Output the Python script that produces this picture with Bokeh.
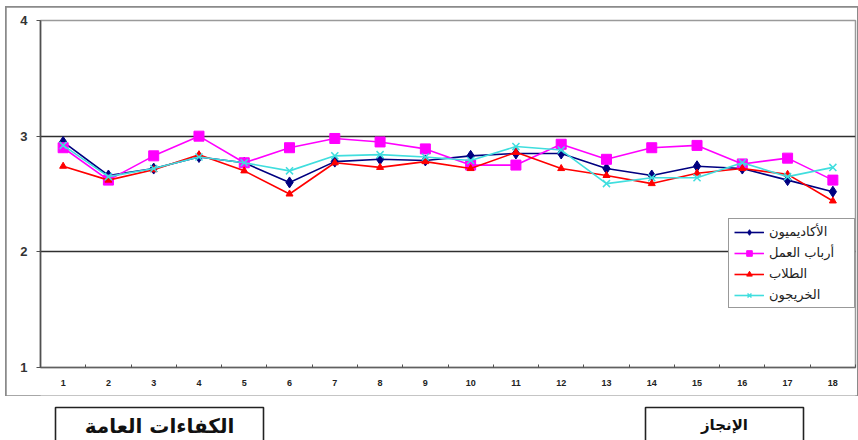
from bokeh.plotting import figure
from bokeh.layouts import column
from bokeh.models import Range1d, FixedTicker, Legend, LegendItem, LinearAxis
from bokeh.core.properties import value
from bokeh.embed import file_html
from bokeh.resources import INLINE

# Competency items 1..18
items = list(range(1, 19))
tick_labels = [str(i) for i in items]

academics = [2.95, 2.66, 2.72, 2.82, 2.77, 2.60, 2.78, 2.80, 2.79,
             2.83, 2.85, 2.85, 2.72, 2.66, 2.74, 2.72, 2.62, 2.52]
employers = [2.90, 2.62, 2.83, 3.00, 2.77, 2.90, 2.98, 2.95, 2.89,
             2.75, 2.75, 2.93, 2.80, 2.90, 2.92, 2.76, 2.81, 2.62]
students = [2.74, 2.62, 2.71, 2.84, 2.70, 2.50, 2.77, 2.73, 2.78,
            2.72, 2.86, 2.72, 2.66, 2.59, 2.68, 2.72, 2.67, 2.44]
graduates = [2.92, 2.65, 2.72, 2.82, 2.77, 2.70, 2.83, 2.84, 2.82,
             2.79, 2.91, 2.88, 2.59, 2.64, 2.64, 2.77, 2.65, 2.73]

series_names = ["الأكاديميون", "أرباب العمل", "الطلاب", "الخريجون"]
y_ticks = [1, 2, 3, 4]
captions = ["الكفاءات العامة", "الإنجاز"]

ARABIC = "DejaVu Sans"

# ---- main line chart, framed by a thin grey border ----
p = figure(width=851, height=388, output_backend="svg", toolbar_location=None,
           x_range=Range1d(0.5, 18.5), y_range=Range1d(1, 4),
           min_border_left=34, min_border_right=2, min_border_top=13,
           min_border_bottom=28, x_axis_location=None, y_axis_location=None,
           margin=(7, 0, 0, 6),
           styles={"outline": "2px solid #8a8a8a", "outline-offset": "-1px"})
p.background_fill_color = "white"
p.border_fill_color = "white"
p.outline_line_color = "#9a9a9a"
p.outline_line_width = 1.5

# grid: only the 2 and 3 levels
p.xgrid.visible = False
p.ygrid.ticker = FixedTicker(ticks=[2, 3])
p.ygrid.grid_line_color = "#303030"
p.ygrid.grid_line_width = 1.6

yax = LinearAxis(ticker=FixedTicker(ticks=y_ticks))
yax.axis_line_color = "#505050"
yax.axis_line_width = 1.6
yax.major_tick_line_color = "#505050"
yax.major_tick_in = 0
yax.major_tick_out = 4
yax.minor_tick_line_color = None
yax.major_label_text_font = "Liberation Sans"
yax.major_label_text_font_size = "13px"
yax.major_label_text_font_style = "bold"
yax.major_label_text_color = "#333333"
yax.major_label_standoff = 9
p.add_layout(yax, "left")

xax = LinearAxis(ticker=FixedTicker(ticks=items,
                                    minor_ticks=[i + 0.5 for i in range(0, 19)]))
xax.major_label_overrides = {i: t for i, t in zip(items, tick_labels)}
xax.axis_line_color = "#606060"
xax.axis_line_width = 1.6
xax.major_tick_line_color = None
xax.minor_tick_line_color = "#505050"
xax.minor_tick_in = 3
xax.minor_tick_out = 0
xax.major_label_text_font = "Liberation Sans"
xax.major_label_text_font_size = "9px"
xax.major_label_text_font_style = "bold"
xax.major_label_text_color = "#222222"
xax.major_label_standoff = 6
p.add_layout(xax, "below")

styles = [
    (academics, "#000080", "diamond", 11),
    (employers, "#ff00ff", "square", 10),
    (students, "#ff0000", "triangle", 7),
    (graduates, "#40dede", "x", 10),
]
legend_items = []
for name, (vals, col, mk, sz) in zip(series_names, styles):
    ln = p.line(items, vals, line_color=col, line_width=1.6)
    sc = p.scatter(items, vals, marker=mk, size=sz, fill_color=col,
                   line_color=col, line_width=1.5 if mk == "x" else 1)
    legend_items.append(LegendItem(label=name, renderers=[ln, sc]))

legend = Legend(items=legend_items, location=(688, 59),
                label_text_font=ARABIC, label_text_font_size="13px",
                label_text_color="#222222", glyph_width=30, glyph_height=14,
                label_height=14, label_width=80, spacing=6, padding=5,
                margin=0, border_line_color="#333333", border_line_width=1,
                background_fill_color="white", background_fill_alpha=1)
p.add_layout(legend, "center")

# ---- caption strip beneath the chart; its frame lines up with the chart's,
# so the x range is expressed in page pixels (40..855) and y runs downward ----
cap = figure(width=851, height=45, output_backend="svg", toolbar_location=None,
             x_range=Range1d(40, 855), y_range=Range1d(45, 0),
             min_border_left=34, min_border_right=2, min_border_top=0,
             min_border_bottom=0, margin=(0, 0, 0, 6),
             x_axis_location=None, y_axis_location=None)
cap.xgrid.visible = False
cap.ygrid.visible = False
cap.outline_line_color = None
cap.background_fill_color = "white"
cap.border_fill_color = "white"

box_left = [55, 645]
box_right = [263, 803]
cap.quad(left=box_left, right=box_right, top=12, bottom=60,
         fill_color=None, line_color="#222222", line_width=1.6)
cap.text(x=[159, 724], y=[30, 29], text=captions,
         text_font=value(ARABIC), text_font_style="bold",
         text_font_size=["20px", "15px"],
         text_align="center", text_baseline="middle", text_color="#111111")

layout = column(p, cap, spacing=0)
open("out.html", "w").write(file_html(layout, INLINE))
